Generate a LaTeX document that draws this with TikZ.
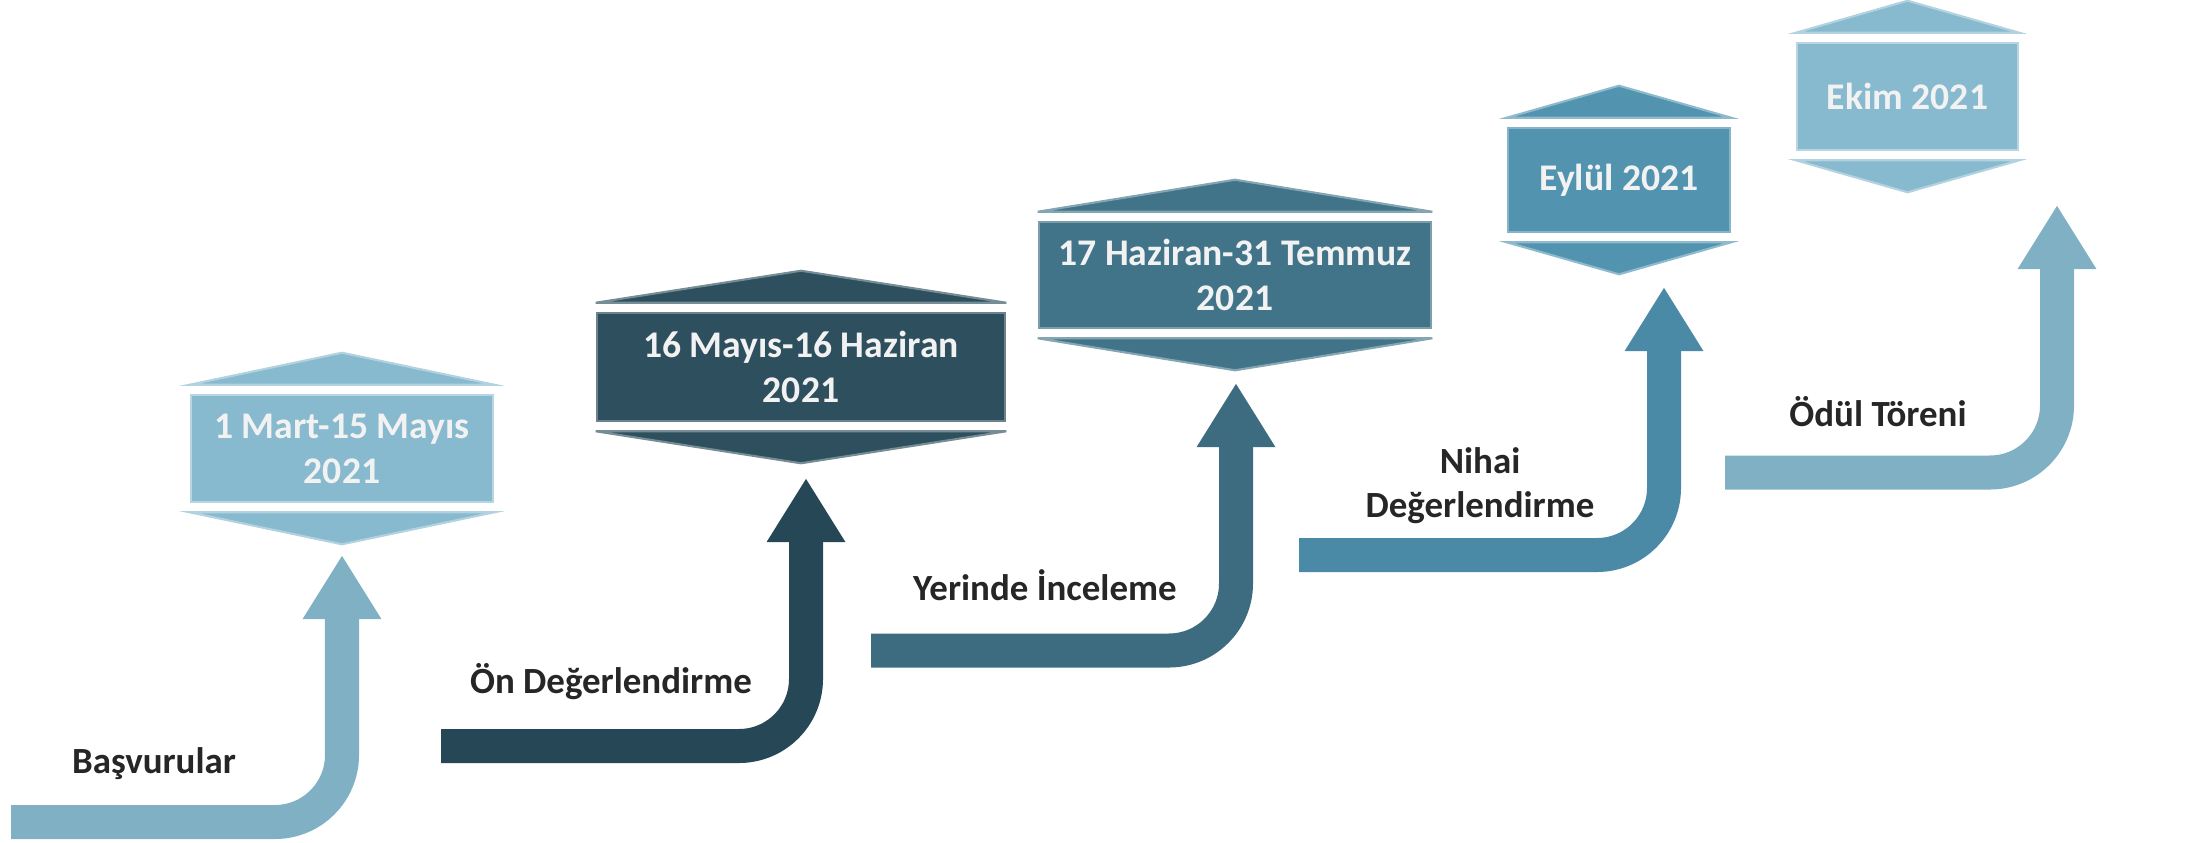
\documentclass[tikz,border=0pt]{standalone}
\usepackage{fontspec}
\setmainfont{Carlito}
\usetikzlibrary{arrows.meta}

\definecolor{paleblue}{HTML}{88BACF}
\definecolor{palearrow}{HTML}{7FB0C4}
\definecolor{darkbox}{HTML}{2E505E}
\definecolor{darkarrow}{HTML}{264856}
\definecolor{midbox}{HTML}{427489}
\definecolor{midarrow}{HTML}{3D6C81}
\definecolor{bluebox}{HTML}{5294B0}
\definecolor{bluearrow}{HTML}{4A8AA6}
\definecolor{labeltext}{HTML}{262626}
\definecolor{boxtext}{HTML}{F2F2F2}

\begin{document}
\begin{tikzpicture}[x=0.01cm,y=-0.01cm,
    datebox/.style={rectangle,inner sep=0pt,align=center,text=boxtext,line width=0.7pt,
      font=\fontsize{10.7}{12.8}\selectfont\bfseries},
    steplabel/.style={inner sep=0pt,align=center,text=labeltext,
      font=\fontsize{10.5}{12.5}\selectfont\bfseries},
    flow/.style={line width=0.34cm,rounded corners=0.67cm,
      -{Triangle[length=0.64cm,width=0.74cm]}}]
    \useasboundingbox (0,0) rectangle (2212,842);

    % date boxes
    \node[datebox,fill=paleblue,draw=paleblue!60!white,minimum width=3.02cm,minimum height=1.07cm] (b1) at (342,448.5) {1 Mart-15 Mayıs\\2021};
    \node[datebox,fill=darkbox,draw=darkbox!70!white,minimum width=4.08cm,minimum height=1.08cm] (b2) at (801,367) {16 Mayıs-16 Haziran\\2021};
    \node[datebox,fill=midbox,draw=midbox!70!white,minimum width=3.92cm,minimum height=1.06cm] (b3) at (1235,275) {17 Haziran-31 Temmuz\\2021};
    \node[datebox,fill=bluebox,draw=bluebox!70!white,minimum width=2.22cm,minimum height=1.04cm] (b4) at (1619,180) {Eylül 2021};
    \node[datebox,fill=paleblue,draw=paleblue!60!white,minimum width=2.21cm,minimum height=1.07cm] (b5) at (1907.5,96.5) {Ekim 2021};

    % caps above and below
    \foreach \b/\c in {b1/paleblue,b2/darkbox,b3/midbox,b4/bluebox,b5/paleblue}{
        \filldraw[fill=\c,draw=\c!65!white,line width=0.6pt] ([yshift=0.09cm]\b.north west) -- ([yshift=0.09cm]\b.north east) -- ([yshift=0.41cm]\b.north) -- cycle;
        \filldraw[fill=\c,draw=\c!65!white,line width=0.6pt] ([yshift=-0.09cm]\b.south west) -- ([yshift=-0.09cm]\b.south east) -- ([yshift=-0.41cm]\b.south) -- cycle;
    }

    % step arrows
    \coordinate (s1) at (11,822);    \coordinate (t1) at (342,555);
    \coordinate (s2) at (441,746);   \coordinate (t2) at (806,478);
    \coordinate (s3) at (871,650.5); \coordinate (t3) at (1236,383);
    \coordinate (s4) at (1299,555);  \coordinate (t4) at (1664,287);
    \coordinate (s5) at (1725,472.5); \coordinate (t5) at (2057,205);
    \draw[flow,palearrow] (s1) -| (t1);
    \draw[flow,darkarrow] (s2) -| (t2);
    \draw[flow,midarrow] (s3) -| (t3);
    \draw[flow,bluearrow] (s4) -| (t4);
    \draw[flow,palearrow] (s5) -| (t5);

    % step names
    \node[steplabel,anchor=base] (l1) at (154,773) {Başvurular};
    \node[steplabel,anchor=base] (l2) at (611,693) {Ön Değerlendirme};
    \node[steplabel,anchor=base] (l3) at (1045,600) {Yerinde İnceleme};
    \node[steplabel] (l4) at (1480,486) {Nihai\\Değerlendirme};
    \node[steplabel,anchor=base] (l5) at (1878,426) {Ödül Töreni};
\end{tikzpicture}
\end{document}
